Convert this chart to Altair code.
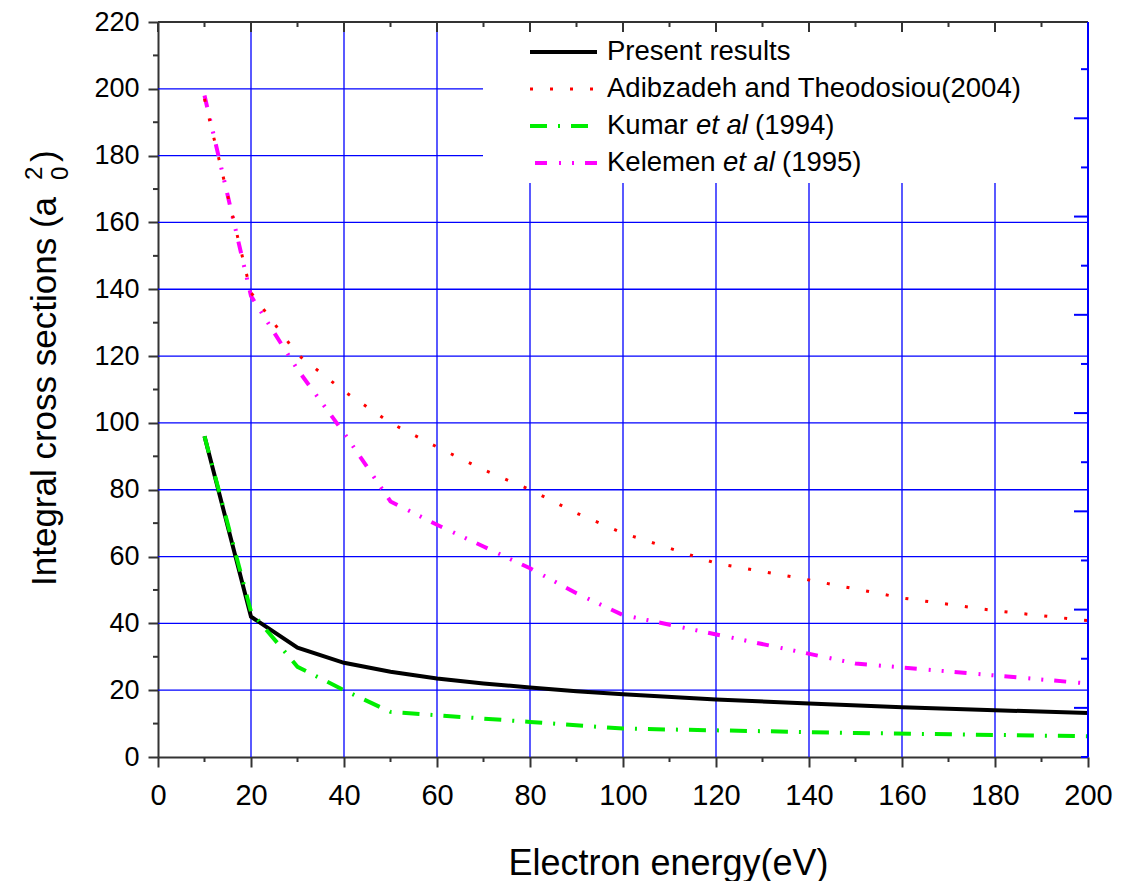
import altair as alt
import pandas as pd

FONT = "Liberation Sans"

# ---- data ----
e_present = [10, 20, 30, 40, 50, 60, 70, 80, 90, 100, 120, 140, 160, 180, 200]
present = [96, 42, 32.7, 28.2, 25.5, 23.5, 22, 20.8, 19.7, 18.8, 17.2, 16, 14.9, 14, 13.2]

e_adib = [10, 20, 30, 40, 50, 60, 70, 80, 90, 100, 120, 140, 160, 180, 200]
adib = [197, 139, 120.5, 109.5, 100, 92.8, 86, 80, 73, 67, 58, 53, 47.6, 43.8, 40.8]

e_kumar = [10, 20, 30, 40, 50, 60, 80, 100, 150, 200]
kumar = [96, 43.5, 27, 20, 13.5, 12.5, 10.5, 8.5, 7.2, 6.2]

e_kel = [10, 20, 30, 40, 50, 60, 70, 80, 90, 100, 150, 200]
kel = [198, 138, 116, 97, 76.5, 69.5, 63, 56.5, 49, 42.5, 28, 22]

x_major = list(range(0, 201, 20))
x_minor = list(range(10, 200, 20))
y_major = list(range(0, 221, 20))
y_minor = list(range(10, 220, 20))
x_grid = list(range(20, 200, 20))
y_grid = list(range(20, 220, 20))
# secondary (right) axis: unlabeled scale, short ticks on integers, long on halves
right_short = [0, 1, 2, 3, 4, 5, 6, 7]
right_long = [0.5, 1.5, 2.5, 3.5, 4.5, 5.5, 6.5]
right_top = 7.48

W, H = 930, 735
xs = alt.Scale(domain=[0, 200], nice=False, zero=False)
ys = alt.Scale(domain=[0, 220], nice=False, zero=False)
rs = alt.Scale(domain=[0, right_top], nice=False, zero=False)

one = pd.DataFrame({"a": [0]})

axis_common = dict(
    domainColor="#333333", domainWidth=2, tickColor="#333333", tickWidth=2, tickSize=10,
    labelFont=FONT, labelColor="black", grid=False, labelFlush=False, labelOverlap=False,
)
xaxis = alt.Axis(values=x_major, labelFontSize=29, labelPadding=14, title="Electron energy(eV)",
                 titleFont=FONT, titleFontSize=36, titleFontWeight="normal", titleColor="black",
                 titleX=510, titleY=117, titleBaseline="alphabetic", titleAlign="center",
                 format="d", orient="bottom", **axis_common)
yaxis = alt.Axis(values=y_major, labelFontSize=27, labelPadding=9, title=None, format="d",
                 orient="left", **axis_common)


def X(field="x"):
    return alt.X(f"{field}:Q", scale=xs, axis=xaxis)


# grid lines
vgrid = alt.Chart(pd.DataFrame({"x": x_grid})).mark_rule(color="#0000ff", strokeWidth=1.3).encode(
    x=X(), y=alt.value(0), y2=alt.value(H))
hgrid = alt.Chart(pd.DataFrame({"y": y_grid})).mark_rule(color="#0000ff", strokeWidth=1.3).encode(
    y=alt.Y("y:Q", scale=ys, axis=None), x=alt.value(0), x2=alt.value(W))

# white legend background covering grid
legbg = alt.Chart(one).mark_rect(color="white").encode(
    x=alt.value(325), x2=alt.value(W - 1), y=alt.value(0), y2=alt.value(161))


def series(xv, yv, color, width, dash=None, yax=None):
    df = pd.DataFrame({"x": xv, "y": yv})
    kw = dict(color=color, strokeWidth=width, clip=True)
    if dash:
        kw["strokeDash"] = dash
    return alt.Chart(df).mark_line(**kw).encode(
        x=X(),
        y=alt.Y("y:Q", scale=ys, axis=yax),
    )


l_present = series(e_present, present, "#000000", 4, yax=yaxis)
l_adib = series(e_adib, adib, "#ff0000", 3, [3, 17])
l_kumar = series(e_kumar, kumar, "#00ee00", 4, [17, 11, 2, 11])
l_kel = series(e_kel, kel, "#ff00ff", 4, [12, 12, 2, 11, 2, 11])

# minor/secondary ticks
bot_minor = alt.Chart(pd.DataFrame({"x": x_minor})).mark_rule(color="#333333", strokeWidth=2).encode(
    x=X(), y=alt.value(H), y2=alt.value(H + 5))
left_minor = alt.Chart(pd.DataFrame({"y": y_minor})).mark_rule(color="#333333", strokeWidth=2).encode(
    y=alt.Y("y:Q", scale=ys, axis=None), x=alt.value(-5), x2=alt.value(0))
top_major = alt.Chart(pd.DataFrame({"x": x_major})).mark_rule(color="#333333", strokeWidth=2).encode(
    x=X(), y=alt.value(0), y2=alt.value(10))
top_minor = alt.Chart(pd.DataFrame({"x": x_minor})).mark_rule(color="#333333", strokeWidth=2).encode(
    x=X(), y=alt.value(0), y2=alt.value(5))
top_line = alt.Chart(one).mark_rule(color="#333333", strokeWidth=2).encode(
    x=alt.value(0), x2=alt.value(W), y=alt.value(0))
right_line = alt.Chart(one).mark_rule(color="#0000ff", strokeWidth=2).encode(
    x=alt.value(W), y=alt.value(0), y2=alt.value(H))
r_short = alt.Chart(pd.DataFrame({"r": right_short})).mark_rule(color="#0000ff", strokeWidth=2).encode(
    y=alt.Y("r:Q", scale=rs, axis=None), x=alt.value(W - 7), x2=alt.value(W))
r_long = alt.Chart(pd.DataFrame({"r": right_long})).mark_rule(color="#0000ff", strokeWidth=2).encode(
    y=alt.Y("r:Q", scale=rs, axis=None), x=alt.value(W - 14), x2=alt.value(W))

# legend
leg_rows_y = [30, 67, 104, 141]
leg_colors = ["#000000", "#ff0000", "#00ee00", "#ff00ff"]
leg_widths = [4, 3, 4, 4]
leg_dashes = [None, [3, 17], [17, 11, 2, 11], [12, 12, 2, 11, 2, 11]]
leg_x0 = [372, 372, 372, 377]
leg_layers = []
for yy, c, w, d, x0 in zip(leg_rows_y, leg_colors, leg_widths, leg_dashes, leg_x0):
    kw = dict(color=c, strokeWidth=w)
    if d:
        kw["strokeDash"] = d
    leg_layers.append(alt.Chart(one).mark_rule(**kw).encode(
        x=alt.value(x0), x2=alt.value(439), y=alt.value(yy)))

TX = 449
FS = 27.5
segments = [
    ("Present results", "normal", 0, 0),
    ("Adibzadeh and Theodosiou(2004)", "normal", 0, 1),
    ("Kumar", "normal", 0, 2),
    ("et al", "italic", 89, 2),
    ("(1994)", "normal", 148, 2),
    ("Kelemen", "normal", 0, 3),
    ("et al", "italic", 116, 3),
    ("(1995)", "normal", 175, 3),
]
for txt, style, dx, row in segments:
    leg_layers.append(alt.Chart(one).mark_text(
        text=txt, font=FONT, fontSize=FS, fontStyle=style, align="left", baseline="middle", color="black"
    ).encode(x=alt.value(TX + dx), y=alt.value(leg_rows_y[row])))

# y-axis title with sub/superscript
ytitle = [
    alt.Chart(one).mark_text(text="Integral cross sections (a", font=FONT, fontSize=35, angle=270,
                             align="left", baseline="alphabetic", color="black").encode(
        x=alt.value(56 - 158), y=alt.value(586 - 22)),
    alt.Chart(one).mark_text(text="2", font=FONT, fontSize=24, angle=270,
                             align="left", baseline="alphabetic", color="black").encode(
        x=alt.value(42 - 158), y=alt.value(180 - 22)),
    alt.Chart(one).mark_text(text="0", font=FONT, fontSize=24, angle=270,
                             align="left", baseline="alphabetic", color="black").encode(
        x=alt.value(68 - 158), y=alt.value(180 - 22)),
    alt.Chart(one).mark_text(text=")", font=FONT, fontSize=35, angle=270,
                             align="left", baseline="alphabetic", color="black").encode(
        x=alt.value(56 - 158), y=alt.value(162 - 22)),
]

chart = alt.layer(
    vgrid, hgrid, legbg, l_present, l_kel, l_kumar, l_adib,
    bot_minor, left_minor, top_major, top_minor, top_line, right_line, r_short, r_long,
    *leg_layers, *ytitle,
).resolve_scale(y="independent").properties(
    width=W, height=H,
    autosize=alt.AutoSizeParams(type="none"),
    padding={"left": 150, "top": 14, "right": 30, "bottom": 124},
).configure_view(stroke=None).configure(background="white")

chart.save("out.html", embed_options={"renderer": "svg", "actions": False})
